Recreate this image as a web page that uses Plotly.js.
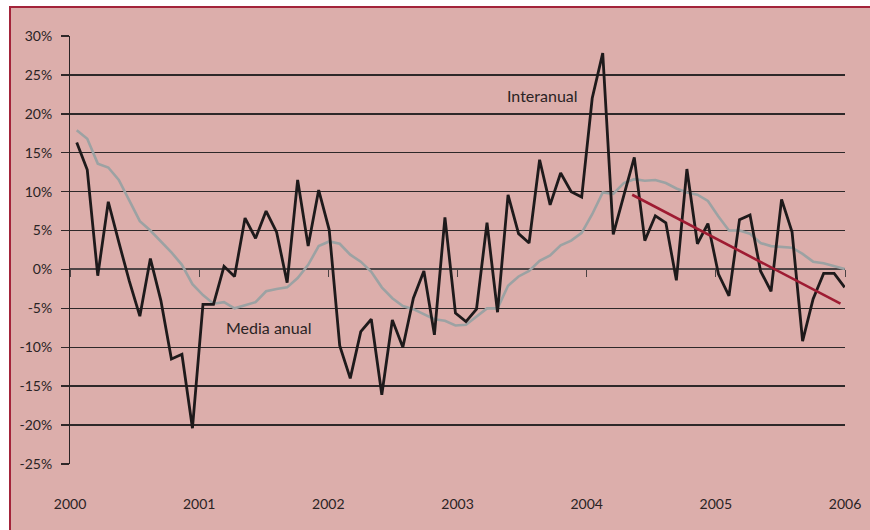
<!DOCTYPE html>
<html>
<head>
<meta charset="utf-8">
<script src="https://cdn.plot.ly/plotly-3.0.1.min.js"></script>
<style>
  html, body { margin: 0; padding: 0; background: #ffffff; width: 870px; height: 530px; overflow: hidden; }
  #wrap { position: absolute; left: 9px; top: 6px; width: 859px; height: 522px;
          border-left: 2px solid #a3243a; border-top: 2px solid #a3243a; background: #dcaeab; }
  #chart { width: 859px; height: 522px; }
</style>
</head>
<body>
<div id="wrap"><div id="chart"></div></div>
<script>
// Year labels along the bottom axis
const yearLabels = ['2000', '2001', '2002', '2003', '2004', '2005', '2006'];

// Interanual (black) – one value per period, in %
const interanual = [
  16.3, 12.8, -0.8, 8.7, 3.5, -1.5, -6.0, 1.4, -4.0, -11.5, -10.9, -20.4,
  -4.5, -4.5, 0.4, -0.9, 6.6, 4.0, 7.5, 4.8, -1.7, 11.5, 3.0, 10.2,
  5.1, -9.8, -14.0, -8.0, -6.4, -16.1, -6.5, -10.0, -3.7, -0.2, -8.4, 6.7,
  -5.6, -6.7, -5.1, 6.0, -5.5, 9.6, 4.6, 3.4, 14.1, 8.3, 12.4, 10.0,
  9.3, 22.0, 27.8, 4.5, 9.5, 14.4, 3.7, 6.9, 6.0, -1.4, 12.9, 3.3,
  5.9, -0.6, -3.4, 6.4, 7.0, -0.2, -2.8, 9.0, 4.8, -9.2, -3.8, -0.5,
  -0.5, -2.3
];

// Media anual (grey) – one value per period, in %
const mediaAnual = [
  17.9, 16.8, 13.6, 13.1, 11.5, 8.8, 6.2, 5.0, 3.6, 2.2, 0.6, -1.9,
  -3.3, -4.4, -4.2, -5.0, -4.6, -4.2, -2.8, -2.5, -2.3, -1.1, 0.6, 3.0,
  3.6, 3.3, 1.9, 1.0, -0.3, -2.3, -3.7, -4.7, -5.1, -5.7, -6.4, -6.6,
  -7.2, -7.1, -6.0, -5.0, -5.0, -2.1, -0.9, -0.2, 1.1, 1.8, 3.1, 3.7,
  4.7, 7.1, 9.9, 9.7, 11.1, 11.6, 11.4, 11.5, 11.1, 10.4, 9.9, 9.6,
  8.8, 6.8, 5.0, 5.0, 4.6, 3.4, 3.0, 2.9, 2.8, 2.0, 1.0, 0.8,
  0.4, 0.05
];

// Trend line (red): start / end periods and values
const trendX = [52.8, 72.6];
const trendY = [9.6, -4.4];

const periods = interanual.map((_, i) => i);

// axis range (period units)
const xMin = -0.64, xMax = 73.03;
const tickPos = yearLabels.map((_, k) => xMin + k * (xMax - xMin) / (yearLabels.length - 1));

const yTicks = [];
for (let v = -25; v <= 30; v += 5) yTicks.push(v);

const fontFam = 'Lato, "Noto Sans", sans-serif';
const txtColor = '#2a2324';

const traces = [
  {
    x: periods, y: mediaAnual, type: 'scatter', mode: 'lines',
    line: { color: '#9ca2a3', width: 2.6 }, hoverinfo: 'skip', showlegend: false
  },
  {
    x: periods, y: interanual, type: 'scatter', mode: 'lines',
    line: { color: '#1e1a1b', width: 2.8 }, hoverinfo: 'skip', showlegend: false
  },
  {
    x: trendX, y: trendY, type: 'scatter', mode: 'lines',
    line: { color: '#9e1b32', width: 2.6 }, hoverinfo: 'skip', showlegend: false
  },
  {
    x: [null], y: [null], xaxis: 'x2', yaxis: 'y', type: 'scatter', mode: 'lines',
    hoverinfo: 'skip', showlegend: false
  }
];

const layout = {
  width: 859, height: 522,
  margin: { l: 59, r: 25, t: 28, b: 66, pad: 0 },
  paper_bgcolor: 'rgba(0,0,0,0)',
  plot_bgcolor: 'rgba(0,0,0,0)',
  font: { family: fontFam, color: txtColor, size: 14 },
  xaxis: {
    range: [xMin, xMax], tickmode: 'array', tickvals: tickPos, ticktext: yearLabels,
    showgrid: false, zeroline: false, showline: false,
    ticks: 'outside', ticklen: 27, tickcolor: 'rgba(0,0,0,0)',
    tickfont: { family: fontFam, size: 14, color: txtColor }
  },
  xaxis2: {
    overlaying: 'x', anchor: 'free', position: 25 / 55, side: 'bottom',
    range: [xMin, xMax], tickmode: 'array', tickvals: tickPos,
    showticklabels: false, showgrid: false, zeroline: false, showline: false,
    ticks: 'outside', ticklen: 7, tickwidth: 1, tickcolor: '#4a4243'
  },
  yaxis: {
    range: [-25, 30], tickmode: 'array', tickvals: yTicks,
    ticktext: yTicks.map(v => v + '%'),
    showgrid: true, gridcolor: '#2e2829', gridwidth: 1.4,
    zeroline: true, zerolinecolor: '#4e4546', zerolinewidth: 2,
    showline: true, linecolor: '#2a2425', linewidth: 1,
    ticks: 'outside', ticklen: 8, tickwidth: 1.4, tickcolor: '#2e2829',
    ticklabelstandoff: 6, tickfont: { family: fontFam, size: 14, color: txtColor }
  },
  annotations: [
    { x: 44.3, y: 22.4, xref: 'x', yref: 'y', text: 'Interanual', showarrow: false,
      font: { family: fontFam, size: 16, color: txtColor } },
    { x: 18.2, y: -7.4, xref: 'x', yref: 'y', text: 'Media anual', showarrow: false,
      font: { family: fontFam, size: 16, color: txtColor } }
  ]
};

Plotly.newPlot('chart', traces, layout, { displayModeBar: false, staticPlot: true });
</script>
</body>
</html>
